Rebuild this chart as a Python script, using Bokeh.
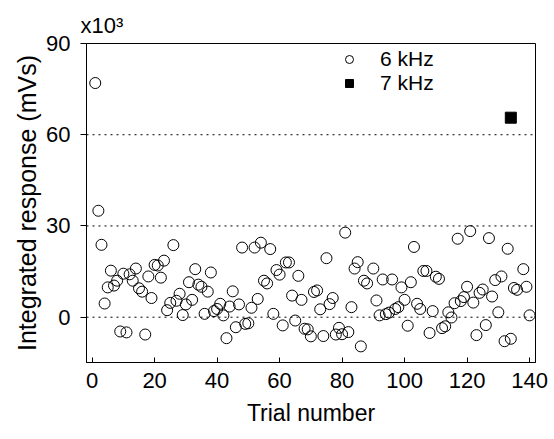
from bokeh.plotting import figure
from bokeh.models import Span, FixedTicker, Range1d, Legend, LegendItem
from bokeh.embed import file_html
from bokeh.resources import INLINE

# ---- data ----
trial_6k = list(range(1, 89)) + list(range(90, 135)) + [135, 136, 138, 139, 140]
resp_6k = [
    77, 35, 23.8, 4.5, 9.8, 15.3, 10.4, 12.0, -4.7, 14.3,
    -5.0, 14.1, 12.0, 16.0, 9.5, 8.4, -5.7, 13.4, 6.3, 17.2,
    17.0, 13.0, 18.6, 2.3, 4.7, 23.7, 5.4, 7.7, 0.7, 4.2,
    11.5, 5.7, 15.8, 10.7, 10.0, 1.1, 8.4, 14.7, 2.0, 2.7,
    4.4, 0.6, -6.9, 3.5, 8.5, -3.3, 4.2, 22.9, -2.2, -2.0,
    3.1, 22.9, 6.0, 24.5, 12.0, 11.1, 22.4, 1.1, 15.5, 14.0,
    -2.7, 18.0, 18.0, 7.1, -1.1, 13.6, 5.7, -3.8, -4.0, -6.3,
    8.3, 8.8, 2.6, -6.2, 19.4, 4.3, 6.3, -5.7, -3.5, -5.6,
    27.8, -4.9, 3.3, 16.0, 18.1, -9.6, 12.0, 11.1,
    16.0, 5.5, 0.6, 12.4, 1.0, 1.5, 12.4, 2.7, 3.3, 9.8,
    5.7, -2.8, 11.5, 23.1, 4.4, 2.7, 15.2, 15.2, -5.2, 2.0,
    13.3, 12.6, -3.6, -3.0, 1.6, -0.1, 4.6, 25.8, 5.3, 6.6,
    10.0, 28.3, 4.8, -5.9, 8.0, 9.1, -2.6, 26.0, 6.8, 12.2,
    1.6, 13.4, -7.9, 22.5, -7.1,
    9.6, 9.0, 15.8, 10.0, 0.6,
]
trial_7k = [134]
resp_7k = [65.6]

x_ticks = [0, 20, 40, 60, 80, 100, 120, 140]
y_ticks = [0, 30, 60, 90]
ref_levels = [0, 30, 60]

FONT = "Liberation Sans"

p = figure(width=554, height=439, output_backend="svg", toolbar_location=None,
           x_range=Range1d(-1.8, 141.9), y_range=Range1d(-14.9, 90),
           min_border_left=86, min_border_right=19, min_border_top=43,
           min_border_bottom=77, background_fill_color="white",
           border_fill_color="white", title="x10\u00b3")
p.grid.visible = False
p.outline_line_color = "black"
p.outline_line_width = 1

# multiplier shown as the title, top-left above the frame
p.title.align = "left"
p.title.offset = -6
p.title.standoff = 11
p.title.text_font = FONT
p.title.text_font_size = "22px"
p.title.text_font_style = "normal"
p.title.text_color = "black"

for lv in ref_levels:
    p.add_layout(Span(location=lv, dimension="width", line_color="black",
                      line_width=1, line_dash="2 4"))

r6 = p.scatter(trial_6k, resp_6k, marker="circle", size=11, fill_alpha=0,
               line_color="black", line_width=1)
r7 = p.scatter(trial_7k, resp_7k, marker="square", size=11,
               fill_color="black", line_color="black")

# axes
xa = p.xaxis[0]
xa.ticker = FixedTicker(ticks=x_ticks)
xa.major_tick_in = 5
xa.major_tick_out = 0
xa.minor_tick_line_color = None
xa.major_label_standoff = 10
xa.major_label_text_font = FONT
xa.major_label_text_font_size = "22px"
xa.major_label_text_color = "black"
xa.axis_label = "Trial number"
xa.axis_label_text_font = FONT
xa.axis_label_text_font_size = "23px"
xa.axis_label_text_font_style = "normal"
xa.axis_label_text_color = "black"
xa.axis_label_standoff = 9
xa.axis_line_color = "black"
xa.major_tick_line_color = "black"

ya = p.yaxis[0]
ya.ticker = FixedTicker(ticks=y_ticks)
ya.major_tick_in = 0
ya.major_tick_out = 6
ya.minor_tick_line_color = None
ya.major_label_standoff = 10
ya.major_label_text_font = FONT
ya.major_label_text_font_size = "22px"
ya.major_label_text_color = "black"
ya.axis_label = "Integrated response (mVs)"
ya.axis_label_text_font = FONT
ya.axis_label_text_font_size = "25px"
ya.axis_label_text_font_style = "normal"
ya.axis_label_text_color = "black"
ya.axis_label_standoff = 2
ya.axis_line_color = "black"
ya.major_tick_line_color = "black"

legend = Legend(items=[LegendItem(label="6 kHz", renderers=[r6]),
                       LegendItem(label="7 kHz", renderers=[r7])],
                location=(253, 267), background_fill_alpha=0,
                border_line_alpha=0, padding=0, margin=0, spacing=0,
                glyph_width=20, glyph_height=22, label_height=22,
                label_standoff=21, label_text_font=FONT,
                label_text_font_size="21px", label_text_color="black")
p.add_layout(legend)

open("out.html", "w").write(file_html(p, INLINE))
